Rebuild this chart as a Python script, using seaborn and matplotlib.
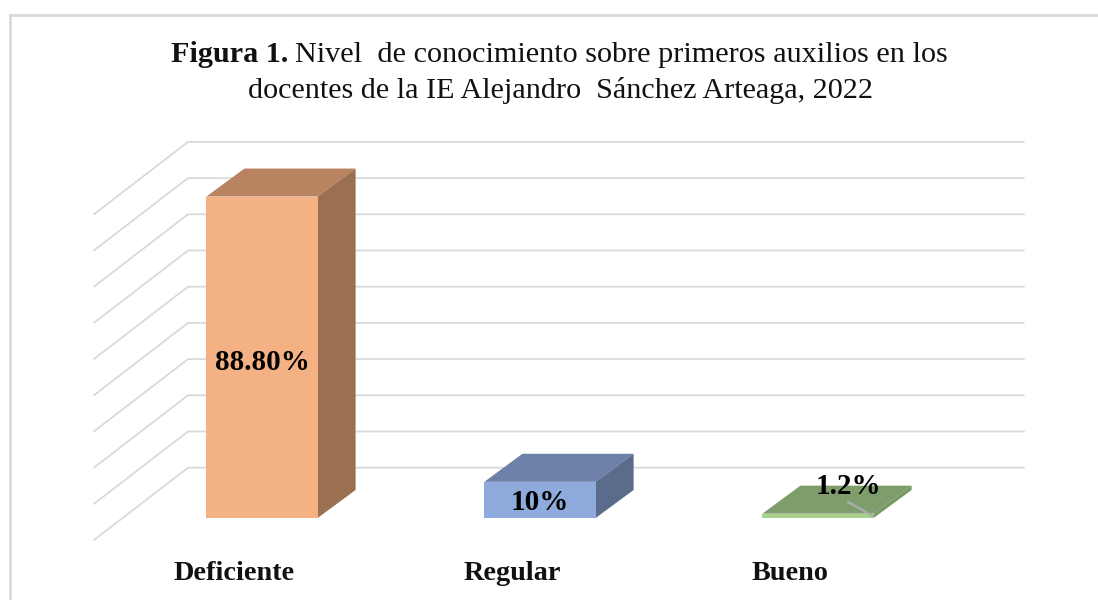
import pandas as pd
import seaborn as sns
import matplotlib.pyplot as plt
from matplotlib.patches import Polygon, Rectangle

categories = ['Deficiente', 'Regular', 'Bueno']
values = [88.8, 10, 1.2]
value_labels = ['88.80%', '10%', '1.2%']
grid_values = [0, 10, 20, 30, 40, 50, 60, 70, 80, 90]

front_colors = ['#F4B183', '#8FAADC', '#A9D18E']
top_colors = ['#B98260', '#6C80A8', '#7F9D6A']
side_colors = ['#9A7050', '#5A6B8C', '#7A9866']

W, H = 1098, 600
# pixel scale of the chart
px_x = 278.0   # pixels per category
px_y = 3.62    # pixels per percent
x0_px, y0_px = 262.0, 518.0  # first bar centre / bar floor

sns.set_theme(style='white')
plt.rcParams['font.family'] = ['Liberation Serif', 'DejaVu Serif']

fig = plt.figure(figsize=(W / 100, H / 100), dpi=100)
ax = fig.add_axes([0, 0, 1, 1])

df = pd.DataFrame({'cat': categories, 'val': values})
sns.barplot(data=df, x='cat', y='val', hue='cat', palette=front_colors, order=categories,
            hue_order=categories, width=0.4, saturation=1, legend=False, ax=ax, zorder=3, linewidth=0)

ax.set_xlim(-x0_px / px_x, (W - x0_px) / px_x)
ax.set_ylim(-(H - y0_px) / px_y, y0_px / px_y)
ax.axis('off')


def dx(p):
    return p / px_x


def dy(p):
    return p / px_y


# walls: back plane is 50 px above the bar floor, front edge 22 px below it
back_x = dx(188 - x0_px)
front_x = dx(94 - x0_px)
right_x = dx(1024 - x0_px)
for v in grid_values:
    yb = v + dy(50.3)
    yf = v - dy(22)
    ax.plot([front_x, back_x, right_x], [yf, yb, yb], color='#D9D9D9', lw=1.3, zorder=1,
            solid_joinstyle='miter')

# depth faces of each bar
ox, oy = dx(38), dy(28)
for bar, top_c, side_c in zip(ax.patches, top_colors, side_colors):
    l, r = bar.get_x(), bar.get_x() + bar.get_width()
    h = bar.get_height()
    ax.add_patch(Polygon([(l, h), (r, h), (r + ox, h + oy), (l + ox, h + oy)], color=top_c, lw=0, zorder=2))
    ax.add_patch(Polygon([(r, 0), (r, h), (r + ox, h + oy), (r + ox, oy)], color=side_c, lw=0, zorder=2))

# leader line of the small label
ax.plot([2 + dx(30), 2 + dx(55)], [dy(16), dy(2)], color='#ABABAB', lw=1.8, zorder=4)

# value labels
label_off = [(0, 0), (0, 0), (dx(30), dy(31))]
label_y = [dy(155.5), dy(15), 0]
for i, txt in enumerate(value_labels):
    ax.text(i + label_off[i][0], label_y[i] + label_off[i][1], txt, ha='center', va='center',
            fontsize=21, fontweight='bold', color='black', zorder=5)

# category labels sit on the front edge of the floor
for i, c in enumerate(categories):
    ax.text(i - dx(28), -dy(55.5), c, ha='center', va='center', fontsize=20.3, fontweight='bold', color='#111111')

# title
t1 = fig.text(171 / W, 1 - 62 / H, 'Figura 1.', fontsize=21.7, fontweight='bold', color='#111111', va='baseline')
fig.canvas.draw()
bb = t1.get_window_extent()
fig.text((bb.x1 + 7) / W, 1 - 62 / H, 'Nivel  de conocimiento sobre primeros auxilios en los', fontsize=21.8,
         color='#111111', va='baseline')
fig.text(560 / W, 1 - 98 / H, 'docentes de la IE Alejandro  Sánchez Arteaga, 2022', fontsize=21.7, ha='center',
         color='#111111', va='baseline')

# outer frame
fig.add_artist(Rectangle((9.5 / W, -0.1), 1.2, 0.1 + 1 - 14.5 / H, transform=fig.transFigure, fill=False,
                         edgecolor='#D9D9D9', lw=2))

fig.savefig('out.png', dpi=100)
